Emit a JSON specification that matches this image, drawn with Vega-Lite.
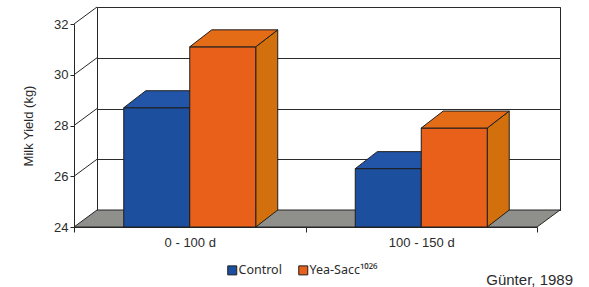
{
  "$schema": "https://vega.github.io/schema/vega-lite/v6.json",
  "width": 463,
  "height": 203,
  "autosize": {"type": "none"},
  "padding": {"left": 97, "top": 7, "right": 29, "bottom": 77},
  "background": "white",
  "config": {
    "font": "Liberation Sans",
    "view": {"stroke": "#262626", "strokeWidth": 1}
  },
  "data": {
    "values": [
      {"period": "0 - 100 d", "series": "Control", "kg": 28.7},
      {"period": "0 - 100 d", "series": "Yea-Sacc\u00b9\u2070\u00b2\u2076", "kg": 31.1},
      {"period": "100 - 150 d", "series": "Control", "kg": 26.3},
      {"period": "100 - 150 d", "series": "Yea-Sacc\u00b9\u2070\u00b2\u2076", "kg": 27.9}
    ]
  },
  "title": {
    "text": "Günter, 1989",
    "orient": "bottom",
    "anchor": "end",
    "frame": "group",
    "fontSize": 15,
    "fontWeight": "normal",
    "color": "#2b2b2b",
    "dx": 13,
    "offset": -4
  },
  "layer": [
    {
      "transform": [{"aggregate": [{"op": "count", "as": "n"}]}],
      "mark": {
        "type": "point",
        "shape": "M-254.5,17 L208.5,17 L231.5,0 L-231.5,0 Z M-254.5,-33.75 L-231.5,-50.75 M-254.5,-84.5 L-231.5,-101.5 M-254.5,-135.25 L-231.5,-152.25 M-254.5,-186 L-231.5,-203",
        "size": 4,
        "filled": true,
        "fill": "#8f8f8b",
        "stroke": "#262626",
        "strokeWidth": 1,
        "opacity": 1
      },
      "encoding": {
        "y": {
          "datum": 24,
          "type": "quantitative",
          "scale": {"domain": [24, 32], "nice": false, "zero": false},
          "axis": {
            "orient": "left",
            "grid": true,
            "gridColor": "#2b2b2b",
            "gridWidth": 1,
            "gridOpacity": 1,
            "domain": false,
            "ticks": false,
            "labels": false,
            "title": null,
            "values": [24, 26, 28, 30, 32]
          }
        }
      }
    },
    {
      "encoding": {
        "x": {
          "field": "period",
          "type": "nominal",
          "scale": {"range": [-23, 440], "paddingInner": 0, "paddingOuter": 0},
          "axis": {
            "orient": "bottom",
            "offset": 17,
            "tickBand": "extent",
            "labelAngle": 0,
            "domainColor": "#262626",
            "tickColor": "#262626",
            "tickSize": 5,
            "labelFontSize": 13,
            "labelColor": "#2b2b2b",
            "labelPadding": 4,
            "title": null
          }
        },
        "xOffset": {
          "field": "series",
          "type": "nominal",
          "scale": {"domain": ["Control", "Yea-Sacc\u00b9\u2070\u00b2\u2076"], "paddingInner": 0, "paddingOuter": 0.7538}
        },
        "y": {
          "field": "kg",
          "type": "quantitative",
          "scale": {"domain": [24, 32], "range": [220, 17], "nice": false, "zero": false},
          "axis": {
            "orient": "left",
            "offset": 23,
            "values": [24, 26, 28, 30, 32],
            "grid": false,
            "domainColor": "#262626",
            "tickColor": "#262626",
            "tickSize": 4,
            "labelFontSize": 13,
            "labelColor": "#2b2b2b",
            "labelPadding": 2,
            "title": "Milk Yield (kg)",
            "titleFontSize": 13,
            "titleFontWeight": "normal",
            "titleColor": "#2b2b2b",
            "titlePadding": 18
          }
        }
      },
      "layer": [
        {
          "transform": [{"filter": "datum.series === 'Control'"}],
          "layer": [
            {
              "mark": {"type": "point", "shape": "M33,0 L55,-17 L55,300 L33,300 Z", "size": 4, "filled": true, "fill": "#183f88", "stroke": "#1e1e1e", "strokeWidth": 1, "opacity": 1, "clip": true}
            },
            {
              "mark": {"type": "point", "shape": "M33,-17 L33,0 L55,-17", "size": 4, "filled": true, "fill": "#183f88", "stroke": "#1e1e1e", "strokeWidth": 1, "opacity": 1},
              "encoding": {"y": {"datum": 24, "type": "quantitative"}}
            },
            {
              "mark": {"type": "bar", "stroke": "#1e1e1e", "strokeWidth": 1},
              "encoding": {
                "y2": {"datum": 24},
                "color": {
                  "field": "series",
                  "type": "nominal",
                  "scale": {"domain": ["Control", "Yea-Sacc\u00b9\u2070\u00b2\u2076"], "range": ["#1d4f9f", "#e9601a"]},
                  "legend": {
                    "orient": "none",
                    "legendX": 129,
                    "legendY": 257,
                    "direction": "horizontal",
                    "title": null,
                    "padding": 0,
                    "symbolType": "square",
                    "symbolSize": 81,
                    "symbolStrokeColor": "#1e1e1e",
                    "symbolStrokeWidth": 1,
                    "labelFont": "Noto Sans",
                    "labelFontSize": 12.5,
                    "labelColor": "#2b2b2b",
                    "labelOffset": 0,
                    "columnPadding": 14
                  }
                }
              }
            },
            {
              "mark": {"type": "point", "shape": "M-33,0 L33,0 L55,-17 L-11,-17 Z", "size": 4, "filled": true, "fill": "#2254a8", "stroke": "#1e1e1e", "strokeWidth": 1, "opacity": 1}
            }
          ]
        },
        {
          "transform": [{"filter": "datum.series !== 'Control'"}],
          "layer": [
            {
              "mark": {"type": "point", "shape": "M33,0 L55,-17 L55,300 L33,300 Z", "size": 4, "filled": true, "fill": "#d2700e", "stroke": "#1e1e1e", "strokeWidth": 1, "opacity": 1, "clip": true}
            },
            {
              "mark": {"type": "point", "shape": "M33,-17 L33,0 L55,-17", "size": 4, "filled": true, "fill": "#d2700e", "stroke": "#1e1e1e", "strokeWidth": 1, "opacity": 1},
              "encoding": {"y": {"datum": 24, "type": "quantitative"}}
            },
            {
              "mark": {"type": "bar", "stroke": "#1e1e1e", "strokeWidth": 1},
              "encoding": {
                "y2": {"datum": 24},
                "color": {"field": "series", "type": "nominal"}
              }
            },
            {
              "mark": {"type": "point", "shape": "M-33,0 L33,0 L55,-17 L-11,-17 Z", "size": 4, "filled": true, "fill": "#e46c17", "stroke": "#1e1e1e", "strokeWidth": 1, "opacity": 1}
            }
          ]
        }
      ]
    }
  ],
  "resolve": {"scale": {"y": "independent"}, "axis": {"y": "independent"}}
}
